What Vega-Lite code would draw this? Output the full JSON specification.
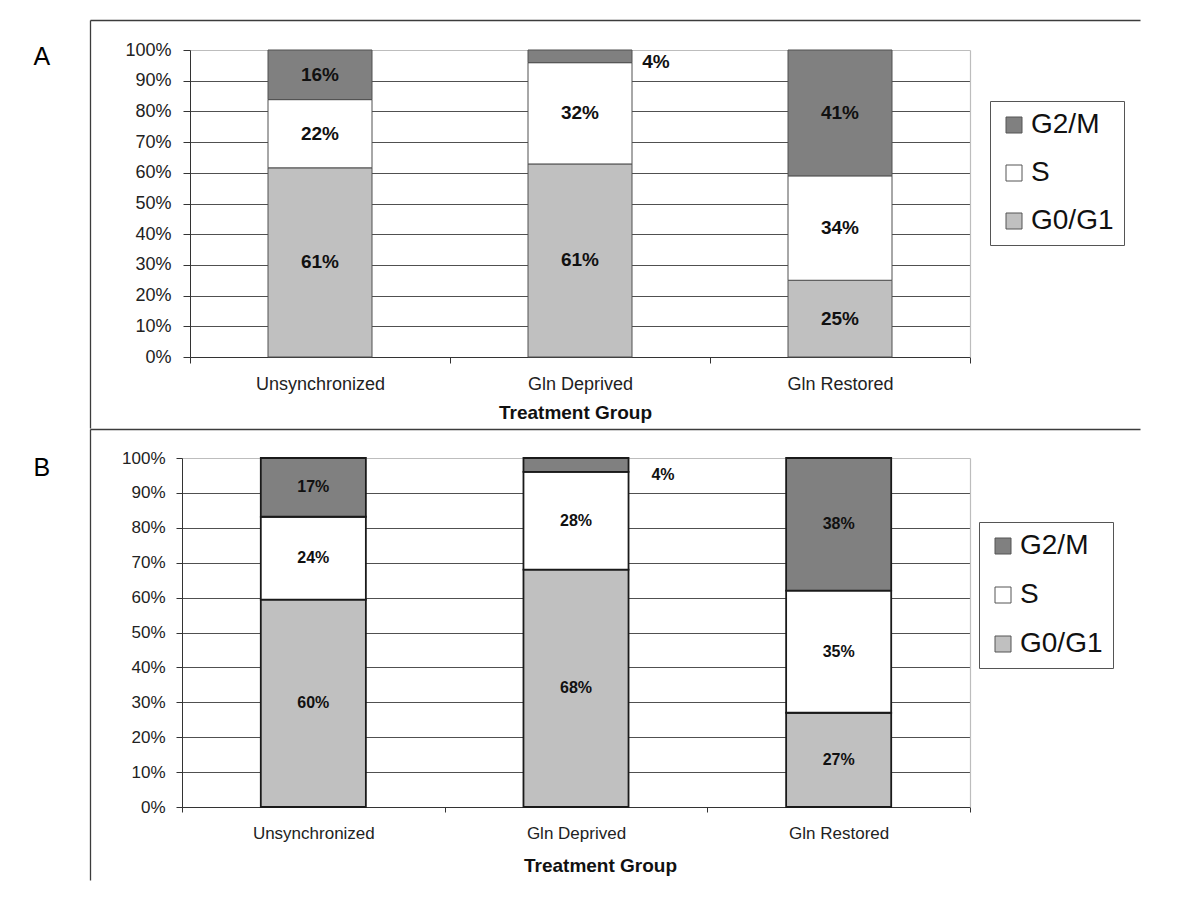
{
  "$schema": "https://vega.github.io/schema/vega-lite/v6.json",
  "background": "white",
  "padding": {"left": 33, "top": 20, "right": 5, "bottom": 5},
  "config": {"font": "Liberation Sans", "view": {"stroke": null}},
  "datasets": {
    "A": [
      {"group": "Unsynchronized", "phase": "G0/G1", "value": 0.61},
      {"group": "Unsynchronized", "phase": "S", "value": 0.22},
      {"group": "Unsynchronized", "phase": "G2/M", "value": 0.16},
      {"group": "Gln Deprived", "phase": "G0/G1", "value": 0.61},
      {"group": "Gln Deprived", "phase": "S", "value": 0.32},
      {"group": "Gln Deprived", "phase": "G2/M", "value": 0.04},
      {"group": "Gln Restored", "phase": "G0/G1", "value": 0.25},
      {"group": "Gln Restored", "phase": "S", "value": 0.34},
      {"group": "Gln Restored", "phase": "G2/M", "value": 0.41}
    ],
    "B": [
      {"group": "Unsynchronized", "phase": "G0/G1", "value": 0.60},
      {"group": "Unsynchronized", "phase": "S", "value": 0.24},
      {"group": "Unsynchronized", "phase": "G2/M", "value": 0.17},
      {"group": "Gln Deprived", "phase": "G0/G1", "value": 0.68},
      {"group": "Gln Deprived", "phase": "S", "value": 0.28},
      {"group": "Gln Deprived", "phase": "G2/M", "value": 0.04},
      {"group": "Gln Restored", "phase": "G0/G1", "value": 0.27},
      {"group": "Gln Restored", "phase": "S", "value": 0.35},
      {"group": "Gln Restored", "phase": "G2/M", "value": 0.38}
    ]
  },
  "spacing": 101,
  "bounds": "flush",
  "resolve": {"scale": {"color": "independent"}, "legend": {"color": "independent"}},
  "vconcat": [
    {
      "width": 780,
      "height": 307,
      "data": {"name": "A"},
      "layer": [
        {
          "mark": {"type": "point", "opacity": 0, "size": 0, "strokeWidth": 0},
          "encoding": {
            "x": {"field": "value", "type": "quantitative", "scale": {"domain": [0, 1], "range": [-100, 950], "zero": false, "nice": false},
              "axis": {"orient": "top", "offset": 30, "domain": true, "domainColor": "#3c3c3c", "domainWidth": 1.3, "ticks": false, "labels": false, "grid": false, "title": null}},
            "y": {"field": "value", "type": "quantitative", "scale": {"domain": [0, 1], "range": [378, -30], "zero": false, "nice": false},
              "axis": {"orient": "left", "offset": 100, "domain": true, "domainColor": "#3c3c3c", "domainWidth": 1.3, "ticks": false, "labels": false, "grid": false,
                "title": "A", "titleAngle": 0, "titleAlign": "left", "titleBaseline": "alphabetic", "titleX": -57, "titleY": 14, "titleFontSize": 25, "titleFontWeight": "normal", "titleColor": "#000"}}
          }
        },
        {
          "mark": {"type": "point", "opacity": 0, "size": 0, "strokeWidth": 0},
          "encoding": {
            "y": {"field": "value", "type": "quantitative", "scale": {"domain": [0, 1], "zero": false, "nice": false},
              "axis": {"orient": "right", "domain": true, "domainColor": "#bdbdbd", "domainWidth": 1.2, "ticks": false, "labels": false, "grid": false, "title": null}}
          }
        },
        {
          "transform": [
            {"calculate": "indexof(['G0/G1','S','G2/M'], datum.phase)", "as": "phase_order"},
            {"stack": "value", "groupby": ["group"], "sort": [{"field": "phase_order"}], "offset": "normalize", "as": ["y0", "y1"]},
            {"calculate": "(datum.y0 + datum.y1) / 2", "as": "ymid"}
          ],
          "encoding": {
            "x": {"field": "group", "type": "nominal", "sort": ["Unsynchronized", "Gln Deprived", "Gln Restored"],
              "scale": {"paddingInner": 0, "paddingOuter": 0},
              "axis": {"orient": "bottom", "title": "Treatment Group", "titleFontSize": 19, "titleFontWeight": "bold", "titleColor": "#111", "titlePadding": 10, "titleX": 385,
                "labelFontSize": 18, "labelAngle": 0, "labelColor": "#222", "labelPadding": 12, "tickBand": "extent", "tickSize": 6, "tickColor": "#333", "domainColor": "#333", "grid": false}}
          },
          "layer": [
            {
              "mark": {"type": "bar", "width": {"band": 0.4}, "stroke": "#505050", "strokeWidth": 1},
              "encoding": {
                "y": {"field": "y0", "type": "quantitative", "scale": {"domain": [0, 1], "nice": false},
                  "axis": {"orient": "left", "values": [0, 0.1, 0.2, 0.3, 0.4, 0.5, 0.6, 0.7, 0.8, 0.9, 1], "format": ".0%", "title": null, "labelFontSize": 18, "labelColor": "#222", "labelPadding": 12, "tickSize": 7, "tickColor": "#333", "domainColor": "#333",
                    "grid": true, "gridColor": {"condition": {"test": "datum.value >= 0.999", "value": "#bdbdbd"}, "value": "#505050"}, "gridOpacity": 1}},
                "y2": {"field": "y1"},
                "color": {"field": "phase", "type": "nominal", "scale": {"domain": ["G2/M", "S", "G0/G1"], "range": ["#808080", "#ffffff", "#c0c0c0"]},
                  "legend": {"orient": "none", "legendX": 800, "legendY": 51, "title": null, "symbolType": "square", "symbolSize": 256, "symbolStrokeColor": "#555", "symbolStrokeWidth": 1, "symbolOpacity": 1,
                    "labelFontSize": 28, "labelColor": "#111", "labelOffset": 3, "rowPadding": 20, "padding": 10, "strokeColor": "#555", "fillColor": "white"}}
              }
            },
            {
              "transform": [{"filter": "datum.value >= 0.05"}],
              "mark": {"type": "text", "fontSize": 19, "fontWeight": "bold", "color": "#111", "baseline": "middle"},
              "encoding": {
                "y": {"field": "ymid", "type": "quantitative", "scale": {"domain": [0, 1], "nice": false},
                  "axis": {"orient": "left", "values": [0, 0.1, 0.2, 0.3, 0.4, 0.5, 0.6, 0.7, 0.8, 0.9, 1], "format": ".0%", "title": null, "labelFontSize": 18, "labelColor": "#222", "labelPadding": 12, "tickSize": 7, "tickColor": "#333", "domainColor": "#333",
                    "grid": true, "gridColor": {"condition": {"test": "datum.value >= 0.999", "value": "#bdbdbd"}, "value": "#505050"}, "gridOpacity": 1}},
                "text": {"field": "value", "type": "quantitative", "format": ".0%"}
              }
            },
            {
              "transform": [{"filter": "datum.value < 0.05"}],
              "mark": {"type": "text", "fontSize": 19, "fontWeight": "bold", "color": "#111", "baseline": "middle", "dx": 76, "dy": 6},
              "encoding": {
                "y": {"field": "ymid", "type": "quantitative", "scale": {"domain": [0, 1], "nice": false},
                  "axis": {"orient": "left", "values": [0, 0.1, 0.2, 0.3, 0.4, 0.5, 0.6, 0.7, 0.8, 0.9, 1], "format": ".0%", "title": null, "labelFontSize": 18, "labelColor": "#222", "labelPadding": 12, "tickSize": 7, "tickColor": "#333", "domainColor": "#333",
                    "grid": true, "gridColor": {"condition": {"test": "datum.value >= 0.999", "value": "#bdbdbd"}, "value": "#505050"}, "gridOpacity": 1}},
                "text": {"field": "value", "type": "quantitative", "format": ".0%"}
              }
            }
          ]
        }
      ],
      "resolve": {"scale": {"x": "independent", "y": "independent"}}
    },
    {
      "width": 780,
      "height": 349,
      "data": {"name": "B"},
      "layer": [
        {
          "mark": {"type": "point", "opacity": 0, "size": 0, "strokeWidth": 0},
          "encoding": {
            "x": {"field": "value", "type": "quantitative", "scale": {"domain": [0, 1], "range": [-100, 950], "zero": false, "nice": false},
              "axis": {"orient": "top", "offset": 29, "domain": true, "domainColor": "#3c3c3c", "domainWidth": 1.3, "ticks": false, "labels": false, "grid": false, "title": null}},
            "y": {"field": "value", "type": "quantitative", "scale": {"domain": [0, 1], "range": [422, -29], "zero": false, "nice": false},
              "axis": {"orient": "left", "offset": 100, "domain": true, "domainColor": "#3c3c3c", "domainWidth": 1.3, "ticks": false, "labels": false, "grid": false,
                "title": "B", "titleAngle": 0, "titleAlign": "left", "titleBaseline": "alphabetic", "titleX": -57, "titleY": 17, "titleFontSize": 25, "titleFontWeight": "normal", "titleColor": "#000"}}
          }
        },
        {
          "mark": {"type": "point", "opacity": 0, "size": 0, "strokeWidth": 0},
          "encoding": {
            "y": {"field": "value", "type": "quantitative", "scale": {"domain": [0, 1], "zero": false, "nice": false},
              "axis": {"orient": "right", "domain": true, "domainColor": "#bdbdbd", "domainWidth": 1.2, "ticks": false, "labels": false, "grid": false, "title": null}}
          }
        },
        {
          "transform": [
            {"calculate": "indexof(['G0/G1','S','G2/M'], datum.phase)", "as": "phase_order"},
            {"stack": "value", "groupby": ["group"], "sort": [{"field": "phase_order"}], "offset": "normalize", "as": ["y0", "y1"]},
            {"calculate": "(datum.y0 + datum.y1) / 2", "as": "ymid"}
          ],
          "encoding": {
            "x": {"field": "group", "type": "nominal", "sort": ["Unsynchronized", "Gln Deprived", "Gln Restored"],
              "scale": {"paddingInner": 0, "paddingOuter": 0, "range": [-8, 780]},
              "axis": {"orient": "bottom", "title": "Treatment Group", "titleFontSize": 19, "titleFontWeight": "bold", "titleColor": "#111", "titlePadding": 15, "titleX": 410,
                "labelFontSize": 17, "labelAngle": 0, "labelColor": "#222", "labelPadding": 13, "tickBand": "extent", "tickSize": 5, "tickColor": "#333", "domainColor": "#333", "grid": false}}
          },
          "layer": [
            {
              "mark": {"type": "bar", "width": {"band": 0.4}, "stroke": "#1a1a1a", "strokeWidth": 1.8},
              "encoding": {
                "y": {"field": "y0", "type": "quantitative", "scale": {"domain": [0, 1], "nice": false},
                  "axis": {"orient": "left", "offset": 8, "values": [0, 0.1, 0.2, 0.3, 0.4, 0.5, 0.6, 0.7, 0.8, 0.9, 1], "format": ".0%", "title": null, "labelFontSize": 17, "labelColor": "#222", "labelPadding": 11, "tickSize": 6, "tickColor": "#333", "domainColor": "#333",
                    "grid": true, "gridColor": {"condition": {"test": "datum.value >= 0.999", "value": "#bdbdbd"}, "value": "#505050"}, "gridOpacity": 1}},
                "y2": {"field": "y1"},
                "color": {"field": "phase", "type": "nominal", "scale": {"domain": ["G2/M", "S", "G0/G1"], "range": ["#808080", "#ffffff", "#c0c0c0"]},
                  "legend": {"orient": "none", "legendX": 789, "legendY": 64, "title": null, "symbolType": "square", "symbolSize": 256, "symbolStrokeColor": "#555", "symbolStrokeWidth": 1, "symbolOpacity": 1,
                    "labelFontSize": 28, "labelColor": "#111", "labelOffset": 3, "rowPadding": 21, "padding": 10, "strokeColor": "#555", "fillColor": "white"}}
              }
            },
            {
              "transform": [{"filter": "datum.value >= 0.05"}],
              "mark": {"type": "text", "fontSize": 16, "fontWeight": "bold", "color": "#111", "baseline": "middle"},
              "encoding": {
                "y": {"field": "ymid", "type": "quantitative", "scale": {"domain": [0, 1], "nice": false},
                  "axis": {"orient": "left", "offset": 8, "values": [0, 0.1, 0.2, 0.3, 0.4, 0.5, 0.6, 0.7, 0.8, 0.9, 1], "format": ".0%", "title": null, "labelFontSize": 17, "labelColor": "#222", "labelPadding": 11, "tickSize": 6, "tickColor": "#333", "domainColor": "#333",
                    "grid": true, "gridColor": {"condition": {"test": "datum.value >= 0.999", "value": "#bdbdbd"}, "value": "#505050"}, "gridOpacity": 1}},
                "text": {"field": "value", "type": "quantitative", "format": ".0%"}
              }
            },
            {
              "transform": [{"filter": "datum.value < 0.05"}],
              "mark": {"type": "text", "fontSize": 16, "fontWeight": "bold", "color": "#111", "baseline": "middle", "dx": 87, "dy": 10},
              "encoding": {
                "y": {"field": "ymid", "type": "quantitative", "scale": {"domain": [0, 1], "nice": false},
                  "axis": {"orient": "left", "offset": 8, "values": [0, 0.1, 0.2, 0.3, 0.4, 0.5, 0.6, 0.7, 0.8, 0.9, 1], "format": ".0%", "title": null, "labelFontSize": 17, "labelColor": "#222", "labelPadding": 11, "tickSize": 6, "tickColor": "#333", "domainColor": "#333",
                    "grid": true, "gridColor": {"condition": {"test": "datum.value >= 0.999", "value": "#bdbdbd"}, "value": "#505050"}, "gridOpacity": 1}},
                "text": {"field": "value", "type": "quantitative", "format": ".0%"}
              }
            }
          ]
        }
      ],
      "resolve": {"scale": {"x": "independent", "y": "independent"}}
    }
  ]
}
